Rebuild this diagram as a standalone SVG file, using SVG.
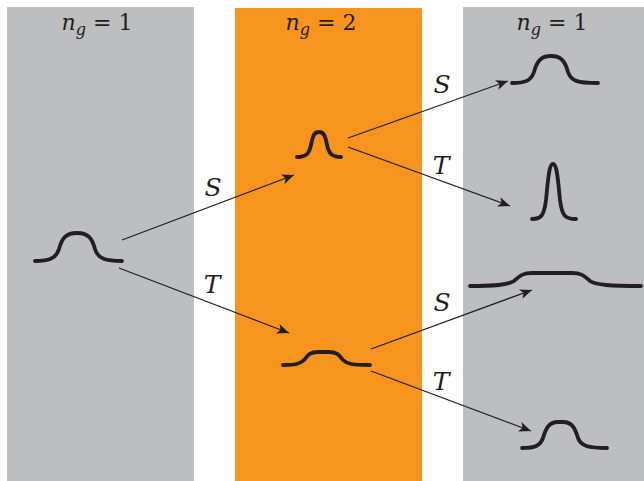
<svg xmlns="http://www.w3.org/2000/svg" width="644" height="481" viewBox="0 0 644 481">
<style>
.col-gray{fill:#bcbec0}
.col-orange{fill:#f7941d}
.curve{fill:none;stroke:#231f20;stroke-width:3.8;stroke-linecap:round;stroke-linejoin:round}
.arrow{fill:none;stroke:#231f20;stroke-width:1.3}
.lab{font-family:"DejaVu Serif",serif;font-style:italic;font-size:25px;fill:#231f20;text-anchor:middle}
.hdr{font-family:"DejaVu Serif",serif;font-size:22px;fill:#231f20;text-anchor:middle}
.it{font-style:italic}
</style>
<defs>
<marker id="ah" markerUnits="userSpaceOnUse" markerWidth="14" markerHeight="12" refX="12" refY="5" orient="auto">
<path d="M0,0 L12,5 L0,10 L3,5 Z" fill="#231f20"/>
</marker>
</defs>
<rect width="644" height="481" fill="#ffffff"/>
<g id="columns">
<rect id="col1" class="col-gray" x="7" y="7" width="187" height="474"/>
<rect id="col2" class="col-orange" x="235" y="8" width="187" height="473"/>
<rect id="col3" class="col-gray" x="463" y="7" width="181" height="474"/>
</g>
<g id="headers">
<text class="hdr" x="97" y="30"><tspan class="it">n</tspan><tspan class="it" font-size="16" dy="5">g</tspan><tspan dy="-5"> = 1</tspan></text>
<text class="hdr" x="321" y="30"><tspan class="it">n</tspan><tspan class="it" font-size="16" dy="5">g</tspan><tspan dy="-5"> = 2</tspan></text>
<text class="hdr" x="552" y="30"><tspan class="it">n</tspan><tspan class="it" font-size="16" dy="5">g</tspan><tspan dy="-5"> = 1</tspan></text>
</g>
<g id="connectors">
<line class="arrow" x1="122" y1="240" x2="294" y2="175" marker-end="url(#ah)"/>
<line class="arrow" x1="119" y1="268" x2="289" y2="333" marker-end="url(#ah)"/>
<line class="arrow" x1="348" y1="138" x2="508" y2="81" marker-end="url(#ah)"/>
<line class="arrow" x1="348" y1="147" x2="510" y2="206" marker-end="url(#ah)"/>
<line class="arrow" x1="371" y1="349" x2="532" y2="290" marker-end="url(#ah)"/>
<line class="arrow" x1="371" y1="371" x2="531" y2="431" marker-end="url(#ah)"/>
</g>
<g id="labels">
<text class="lab" x="213" y="196">S</text>
<text class="lab" x="212" y="293">T</text>
<text class="lab" x="442" y="93">S</text>
<text class="lab" x="441" y="174">T</text>
<text class="lab" x="442" y="311">S</text>
<text class="lab" x="441" y="390">T</text>
</g>
<g id="node-start">
<path class="curve" d="M35,261 C48,261 56,259 59,249 C62,238 66,233 77,233 C88,233 92,238 95,249 C98,259 106,261 122,261"/>
</g>
<g id="node-S">
<path class="curve" d="M297,157 C306,157 309,154 311,145 C313,134 315,132 319,132 C323,132 325,134 327,145 C329,154 332,157 341,157"/>
</g>
<g id="node-T">
<path class="curve" d="M283,365 C295,365 300,364 304,360 C308,355 310,352 318,352 L329,352 C337,352 339,355 343,360 C347,364 352,365 370,365"/>
</g>
<g id="node-SS">
<path class="curve" d="M512,83 C525,83 531,81 534,72 C537,61 541,56 551,56 C561,56 565,61 568,72 C571,81 577,83 598,83"/>
</g>
<g id="node-ST">
<path class="curve" d="M532,219 C541,219 544,216 546,200 C548,180 549,164 553,164 C557,164 558,180 560,200 C562,216 565,219 576,219"/>
</g>
<g id="node-TS">
<path class="curve" d="M470,286 C495,286 508,285 514,281 C520,276 522,273 532,273 L572,273 C582,273 584,276 590,281 C596,285 610,286 641,286"/>
</g>
<g id="node-TT">
<path class="curve" d="M522,448 C535,448 540,446 543,438 C546,428 549,422 558,422 L563,422 C572,422 575,428 578,438 C581,446 588,448 607,448"/>
</g>
</svg>
